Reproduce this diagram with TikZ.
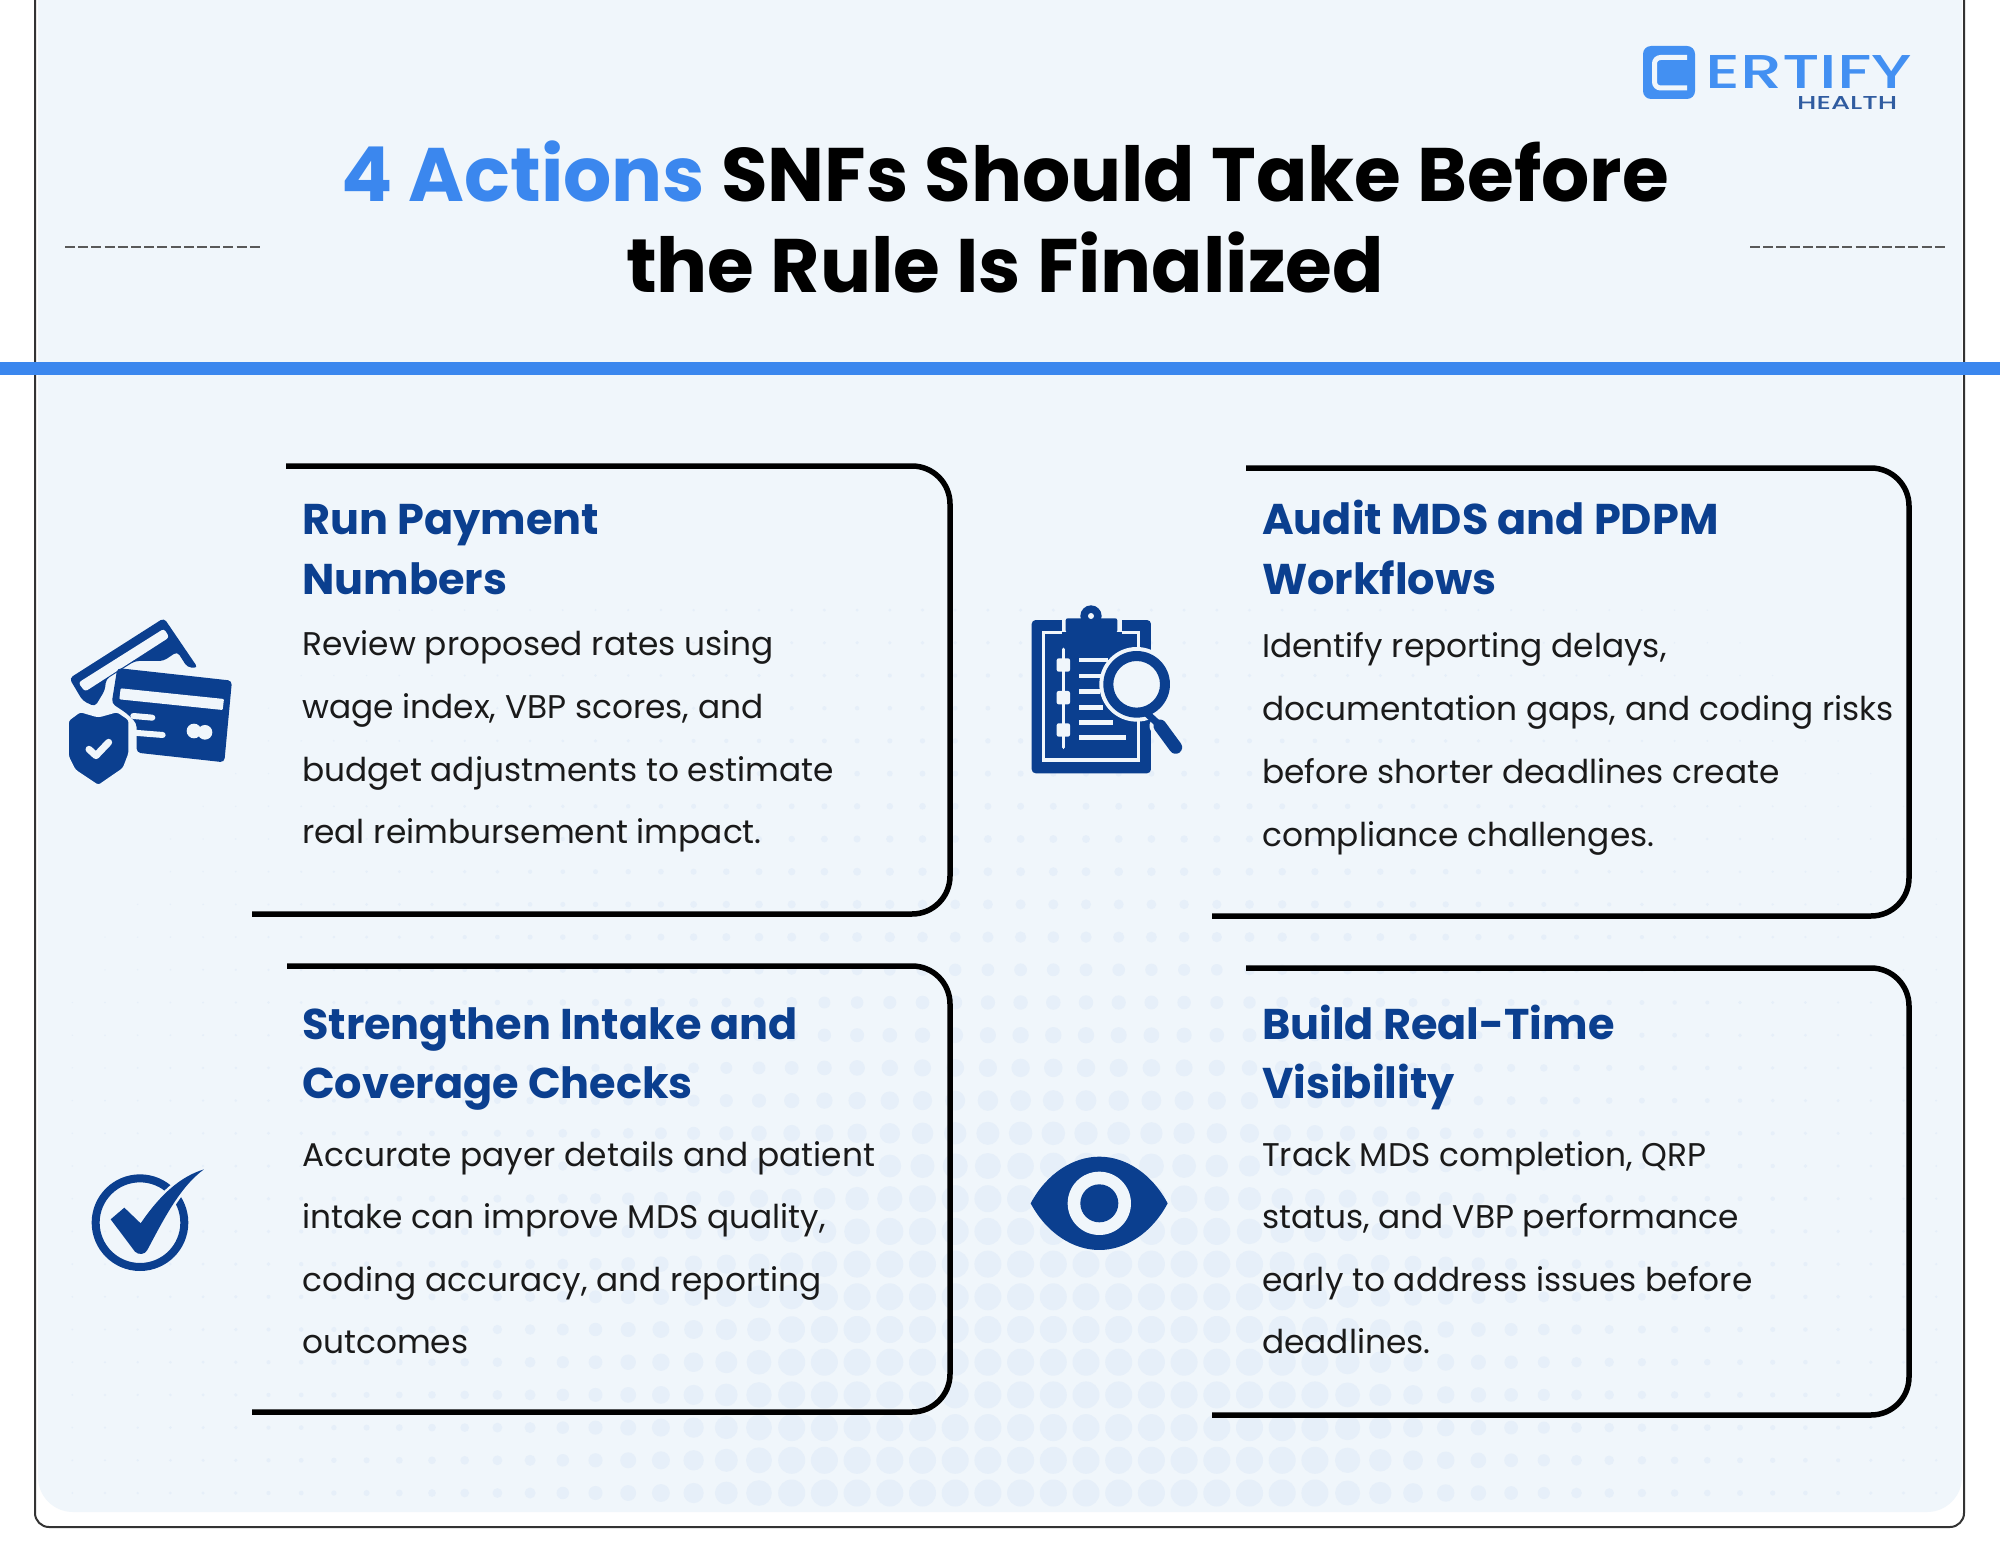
\documentclass[tikz,border=0pt]{standalone}
\usepackage{fontspec}
\usepackage{graphicx}
\setmainfont{Poppins}
\newfontfamily\logofont{Poppins Medium}
\definecolor{panelbg}{HTML}{F0F6FB}
\definecolor{dotblue}{HTML}{E6EFF9}
\definecolor{barblue}{HTML}{3B87EE}
\definecolor{logoblue}{HTML}{4390F2}
\definecolor{navy}{HTML}{0B3F8F}
\definecolor{inkblack}{HTML}{1A1A1A}
\tikzset{
  cardline/.style={line width=5.5pt,draw=black,rounded corners=38pt},
  headtext/.style={anchor=base west,inner sep=0pt,text=navy,font=\fontsize{43}{43}\selectfont\bfseries},
  bodytext/.style={anchor=base west,inner sep=0pt,text=inkblack,font=\fontsize{32.8}{33}\selectfont},
  titletext/.style={anchor=base,inner sep=0pt,text=black,font=\fontsize{75.8}{76}\selectfont\bfseries},
  sidedash/.style={line width=2.5pt,draw=black!65,dash pattern=on 10pt off 3.2pt},
}
\begin{document}
\begin{tikzpicture}[x=1pt,y=-1pt]
        \useasboundingbox (0,0) rectangle (2000,1546);
        \fill[white] (0,0) rectangle (2000,1546);
        % panel and halftone dots
        \fill[panelbg] (38,0) [rounded corners=35pt] -- (38,1512) -- (1962,1512) [sharp corners] -- (1962,0) -- cycle;
        \foreach \col in {0,...,57} {
            \foreach \row in {0,...,27} {
                \pgfmathsetmacro{\dotx}{72.3+32.7*\col}
                \pgfmathsetmacro{\doty}{1493-32.7*\row}
                \pgfmathsetmacro{\dotd}{max(veclen(\dotx-1050,\doty-1450),280)}
                \pgfmathsetmacro{\dotr}{13.5*exp(-(\dotd-280)/270)}
                \ifdim\dotr pt>0.7pt
                    \fill[dotblue] (\dotx,\doty) circle[radius=\dotr];
                \fi
            }
        }
        \draw[line width=2pt,draw=black!80,rounded corners=14pt] (35,0) -- (35,1527) -- (1964,1527) -- (1964,0);
        \fill[barblue] (0,362) rectangle (2000,375);
        \draw[sidedash] (65,247) -- (260,247);
        \draw[sidedash] (1750,247) -- (1945,247);
        % logo
        \fill[logoblue,rounded corners=8pt] (1643,46) rectangle (1695,99);
        \draw[panelbg,line width=5pt,rounded corners=6pt] (1687,57.5) -- (1654.5,57.5) -- (1654.5,88) -- (1687,88);
        \node[anchor=base west,inner sep=0pt,text=logoblue] (logoname) at (1705,89) {\resizebox{207pt}{33pt}{\logofont ERTIFY}};
        \node[anchor=base west,inner sep=0pt,text=navy!85] (logosub) at (1797,110) {\resizebox{100pt}{13pt}{\logofont HEALTH}};
        % title
        \node[titletext] (titleone) at (1005,201.5) {\textcolor{barblue}{4 Actions} SNFs Should Take Before};
        \node[titletext] (titletwo) at (1005,293) {the Rule Is Finalized};
        % cards
        \draw[cardline] (286,466) -- (950,466) -- (950,914) -- (252,914);
        \draw[cardline] (1246,468) -- (1909,468) -- (1909,916) -- (1212,916);
        \draw[cardline] (287,966) -- (950,966) -- (950,1412) -- (252,1412);
        \draw[cardline] (1246,968) -- (1909,968) -- (1909,1415) -- (1212,1415);
        % card texts
        \node[headtext] (payone) at (302,534.5) {Run Payment};
        \node[headtext] (paytwo) at (302,594) {Numbers};
        \node[bodytext] (paya) at (302,655.5) {Review proposed rates using};
        \node[bodytext] (payb) at (302,718) {wage index, VBP scores, and};
        \node[bodytext] (payc) at (302,781) {budget adjustments to estimate};
        \node[bodytext] (payd) at (302,843.5) {real reimbursement impact.};
        \node[headtext] (auditone) at (1262,534.5) {Audit MDS and PDPM};
        \node[headtext] (audittwo) at (1262,594) {Workflows};
        \node[bodytext] (audita) at (1262,657) {Identify reporting delays,};
        \node[bodytext] (auditb) at (1262,720.5) {documentation gaps, and coding risks};
        \node[bodytext] (auditc) at (1262,783.5) {before shorter deadlines create};
        \node[bodytext] (auditd) at (1262,846) {compliance challenges.};
        \node[headtext] (intakeone) at (302,1039) {Strengthen Intake and};
        \node[headtext] (intaketwo) at (302,1098) {Coverage Checks};
        \node[bodytext] (intakea) at (302,1166) {Accurate payer details and patient};
        \node[bodytext] (intakeb) at (302,1228.5) {intake can improve MDS quality,};
        \node[bodytext] (intakec) at (302,1291) {coding accuracy, and reporting};
        \node[bodytext] (intaked) at (302,1353) {outcomes};
        \node[headtext] (viewone) at (1262,1039) {Build Real-Time};
        \node[headtext] (viewtwo) at (1262,1098) {Visibility};
        \node[bodytext] (viewa) at (1262,1166) {Track MDS completion, QRP};
        \node[bodytext] (viewb) at (1262,1228.5) {status, and VBP performance};
        \node[bodytext] (viewc) at (1262,1291) {early to address issues before};
        \node[bodytext] (viewd) at (1262,1353) {deadlines.};
        % payment cards icon
        \begin{scope}[shift={(40,580)},x=0.3333pt,y=-0.3333pt]
            \fill[navy,rounded corners=4pt] (88,295) -- (372,114) -- (474,264) -- (442,262) -- (412,215) -- (370,243) -- (285,243) -- (198,298) -- (195,330) -- (165,380) -- (128,362) -- cycle;
            \fill[panelbg,rounded corners=3pt] (115,308) -- (372,146) -- (388,172) -- (135,335) -- cycle;
            \fill[navy,rounded corners=4pt] (232,264) -- (576,302) -- (553,547) -- (290,518) -- (290,430) -- (260,400) -- (215,370) -- cycle;
            \fill[panelbg,rounded corners=1pt] (242,325) -- (552,357) -- (548,390) -- (238,358) -- cycle;
            \draw[panelbg,line width=6pt,line cap=round] (280,408) -- (337,413);
            \draw[panelbg,line width=6pt,line cap=round] (280,458) -- (368,465);
            \fill[panelbg] (462,453) circle[radius=22] (495,457) circle[radius=22];
            \fill[navy,draw=panelbg,line width=3pt,rounded corners=3pt] (82,420) -- (120,392) -- (175,408) -- (232,392) -- (270,418) -- (270,520) -- (252,567) -- (175,620) -- (103,572) -- (82,530) -- cycle;
            \draw[panelbg,line width=7pt,line cap=round,line join=round] (147,508) -- (168,527) -- (206,487);
        \end{scope}
        % clipboard icon
        \begin{scope}[shift={(1010,590)},x=0.3333pt,y=-0.3333pt]
            \fill[navy,rounded corners=4pt] (65,90) rectangle (423,550);
            \fill[panelbg] (155,85) rectangle (335,125);
            \fill[navy] (243,78) circle[radius=32];
            \fill[navy,rounded corners=2pt] (167,85) rectangle (322,127);
            \fill[panelbg] (243,78) circle[radius=9];
            \draw[panelbg,line width=3.5pt] (155,127) -- (100,127) -- (100,510) -- (386,510) -- (386,127) -- (335,127);
            \draw[panelbg,line width=3.5pt,line cap=round] (160,178) -- (160,472);
            \foreach \knoby in {225,323,420} {
                \fill[panelbg,rounded corners=2pt] (140,\knoby-20) rectangle (180,\knoby+20);
            }
            \foreach \liney/\lineend in {210/295,258/280,305/270,352/280,398/310,443/348} {
                \draw[panelbg,line width=4.5pt] (207,\liney) -- (\lineend,\liney);
            }
            \draw[panelbg,line width=21pt,line cap=round] (450,408) -- (497,472);
            \fill[panelbg] (380,283) circle[radius=112];
            \draw[navy,line width=7pt] (410,370) -- (445,402);
            \draw[navy,line width=13pt,line cap=round] (450,408) -- (497,472);
            \fill[navy,even odd rule] (380,283) circle[radius=100] (380,283) circle[radius=70];
        \end{scope}
        % check icon
        \begin{scope}[shift={(70,1140)},x=0.3333pt,y=-0.3333pt]
            \draw[navy,line width=8pt] (210,248) circle[radius=133];
            \fill[navy,draw=panelbg,line width=5pt,line join=round] (122,238) -- (163,203) -- (212,250) .. controls (270,165) and (330,110) .. (402,88) .. controls (330,140) and (280,240) .. (232,330) .. controls (225,345) and (205,345) .. (195,335) -- cycle;
            \fill[navy] (122,238) -- (163,203) -- (212,250) .. controls (270,165) and (330,110) .. (402,88) .. controls (330,140) and (280,240) .. (232,330) .. controls (225,345) and (205,345) .. (195,335) -- cycle;
        \end{scope}
        % eye icon
        \begin{scope}[shift={(1010,1130)},x=0.3333pt,y=-0.3333pt]
            \fill[navy] (62,220) .. controls (110,130) and (190,80) .. (268,80) .. controls (346,80) and (425,130) .. (473,220) .. controls (425,310) and (346,360) .. (268,360) .. controls (190,360) and (110,310) .. (62,220) -- cycle;
            \fill[panelbg] (268,220) circle[radius=95];
            \fill[navy] (268,220) circle[radius=57];
        \end{scope}
    \end{tikzpicture}
\end{document}
